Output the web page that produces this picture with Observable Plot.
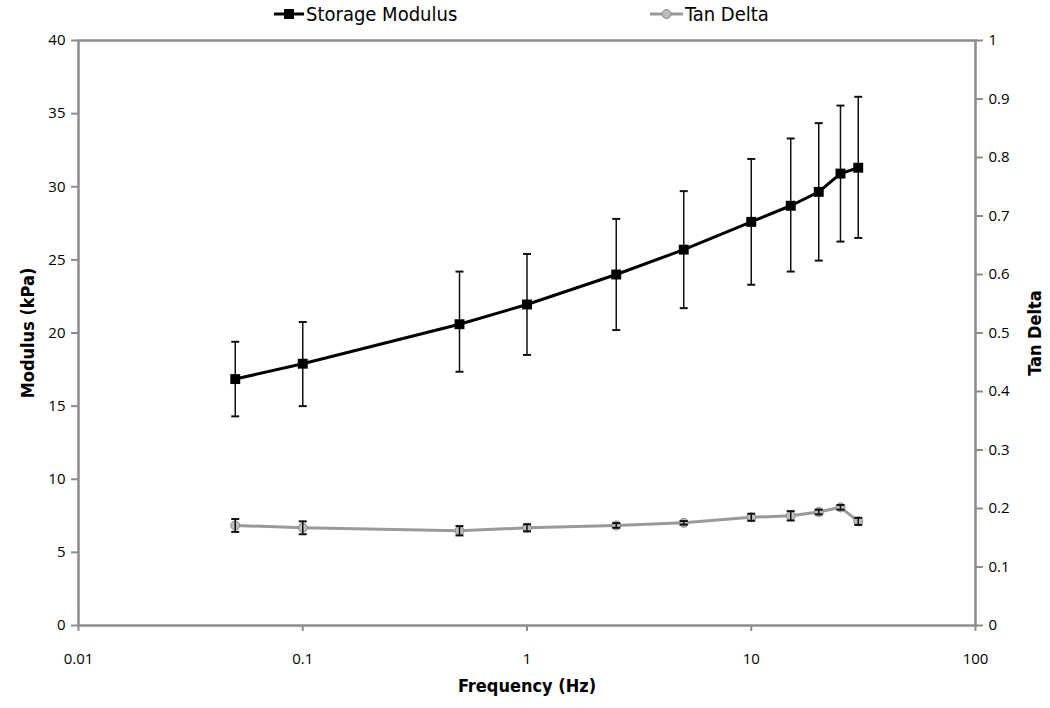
<!DOCTYPE html>
<html>
<head>
<meta charset="utf-8">
<script src="https://cdn.jsdelivr.net/npm/d3@7"></script>
<script src="https://cdn.jsdelivr.net/npm/@observablehq/plot@0.6"></script>
<style>
  html, body { margin: 0; padding: 0; background: #fff; }
  #legend { position: relative; height: 30px; width: 1050px; font-family: "DejaVu Sans Condensed", "Open Sans", sans-serif; font-size: 20px; color: #000; }
  .item { position: absolute; top: 2px; display: flex; align-items: center; }
  .item svg { margin-right: 2px; }
</style>
</head>
<body>
<div id="legend">
  <div class="item" style="left:274px">
    <svg width="30" height="20"><line x1="0" y1="10" x2="30" y2="10" stroke="#000" stroke-width="3"/><rect x="10" y="5" width="10" height="10" fill="#000"/></svg>
    <span>Storage Modulus</span>
  </div>
  <div class="item" style="left:650px">
    <svg width="33" height="20"><line x1="0" y1="10" x2="33" y2="10" stroke="#999" stroke-width="3"/><circle cx="16.5" cy="10" r="4.5" fill="#bbb" stroke="#888" stroke-width="1"/></svg>
    <span>Tan Delta</span>
  </div>
</div>
<div id="chart"></div>
<script>
// Frequencies (Hz)
const freq = [0.05, 0.1, 0.5, 1, 2.5, 5, 10, 15, 20, 25, 30];
// Storage modulus (kPa): mean, upper and lower error-bar ends
const modulus = [16.85, 17.9, 20.6, 21.95, 24.0, 25.7, 27.6, 28.7, 29.65, 30.9, 31.3];
const modulusHi = [19.4, 20.75, 24.2, 25.4, 27.8, 29.7, 31.9, 33.3, 34.35, 35.55, 36.15];
const modulusLo = [14.3, 15.0, 17.35, 18.5, 20.2, 21.7, 23.3, 24.2, 24.95, 26.25, 26.5];
// Tan delta: mean and error (+/-)
const tanDelta = [0.171, 0.167, 0.162, 0.167, 0.171, 0.1755, 0.185, 0.1875, 0.194, 0.202, 0.178];
const tanErr = [0.011, 0.011, 0.008, 0.006, 0.004, 0.003, 0.006, 0.008, 0.004, 0.004, 0.006];
// Axes
const xTicks = [0.01, 0.1, 1, 10, 100];
const modTicks = [0, 5, 10, 15, 20, 25, 30, 35, 40];
const tanTicks = [0, 0.1, 0.2, 0.3, 0.4, 0.5, 0.6, 0.7, 0.8, 0.9, 1];
const tanMax = 1, modMax = 40;
const k = modMax / tanMax;

const modData = freq.map((f, i) => ({f, v: modulus[i], hi: modulusHi[i], lo: modulusLo[i]}));
const tanData = freq.map((f, i) => ({f, v: tanDelta[i] * k, hi: (tanDelta[i] + tanErr[i]) * k, lo: (tanDelta[i] - tanErr[i]) * k}));

const cap = { draw(ctx) { ctx.moveTo(-4, 0); ctx.lineTo(4, 0); } };
const axisGray = "#8c8c8c";
const tickFont = "Open Sans, sans-serif";
const titleFont = "'Liberation Sans Narrow', 'DejaVu Sans Condensed', sans-serif";

const chart = Plot.plot({
  width: 1050,
  height: 678,
  marginLeft: 78,
  marginRight: 75,
  marginTop: 10,
  marginBottom: 83,
  style: { fontFamily: tickFont, fontSize: "15px", color: "#000", background: "#fff" },
  x: { type: "log", domain: [0.01, 100] },
  y: { domain: [0, modMax] },
  marks: [
    Plot.axisX({ ticks: xTicks, tickFormat: d => String(d), tickSize: 6, tickPadding: 22, stroke: axisGray, strokeWidth: 2, fill: "#000", label: null, fontSize: 15 }),
    Plot.axisY({ anchor: "left", ticks: modTicks, tickSize: 7, tickPadding: 6, stroke: axisGray, strokeWidth: 2, fill: "#000", label: null, fontSize: 15 }),
    Plot.axisY({ anchor: "right", ticks: tanTicks.map(t => t * k), tickFormat: d => String(+(d / k).toFixed(1)), tickSize: 7, tickPadding: 6, stroke: axisGray, strokeWidth: 2, fill: "#000", label: null, fontSize: 15 }),
    Plot.frame({ stroke: axisGray, strokeWidth: 2.5 }),
    // Tan delta
    Plot.line(tanData, { x: "f", y: "v", stroke: "#9a9a9a", strokeWidth: 3 }),
    Plot.dot(tanData, { x: "f", y: "v", r: 4.5, fill: "#bdbdbd", stroke: "#8a8a8a", strokeWidth: 1 }),
    Plot.ruleX(tanData, { x: "f", y1: "lo", y2: "hi", stroke: "#111", strokeWidth: 1.5 }),
    Plot.dot(tanData, { x: "f", y: "hi", symbol: cap, stroke: "#111", strokeWidth: 2 }),
    Plot.dot(tanData, { x: "f", y: "lo", symbol: cap, stroke: "#111", strokeWidth: 2 }),
    // Storage modulus
    Plot.ruleX(modData, { x: "f", y1: "lo", y2: "hi", stroke: "#111", strokeWidth: 1.5 }),
    Plot.dot(modData, { x: "f", y: "hi", symbol: cap, stroke: "#111", strokeWidth: 2 }),
    Plot.dot(modData, { x: "f", y: "lo", symbol: cap, stroke: "#111", strokeWidth: 2 }),
    Plot.line(modData, { x: "f", y: "v", stroke: "#000", strokeWidth: 3 }),
    Plot.dot(modData, { x: "f", y: "v", symbol: "square", r: 5.6, fill: "#000" }),
    // Axis titles
    Plot.text(["Modulus (kPa)"], { frameAnchor: "left", textAnchor: "middle", dx: -50, rotate: -90, fontFamily: titleFont, fontWeight: "bold", fontSize: 18 }),
    Plot.text(["Tan Delta"], { frameAnchor: "right", textAnchor: "middle", dx: 60, rotate: -90, fontFamily: titleFont, fontWeight: "bold", fontSize: 18 }),
    Plot.text(["Frequency (Hz)"], { frameAnchor: "bottom", textAnchor: "middle", dy: 66, fontFamily: titleFont, fontWeight: "bold", fontSize: 18 })
  ]
});
document.getElementById("chart").appendChild(chart);
</script>
</body>
</html>
